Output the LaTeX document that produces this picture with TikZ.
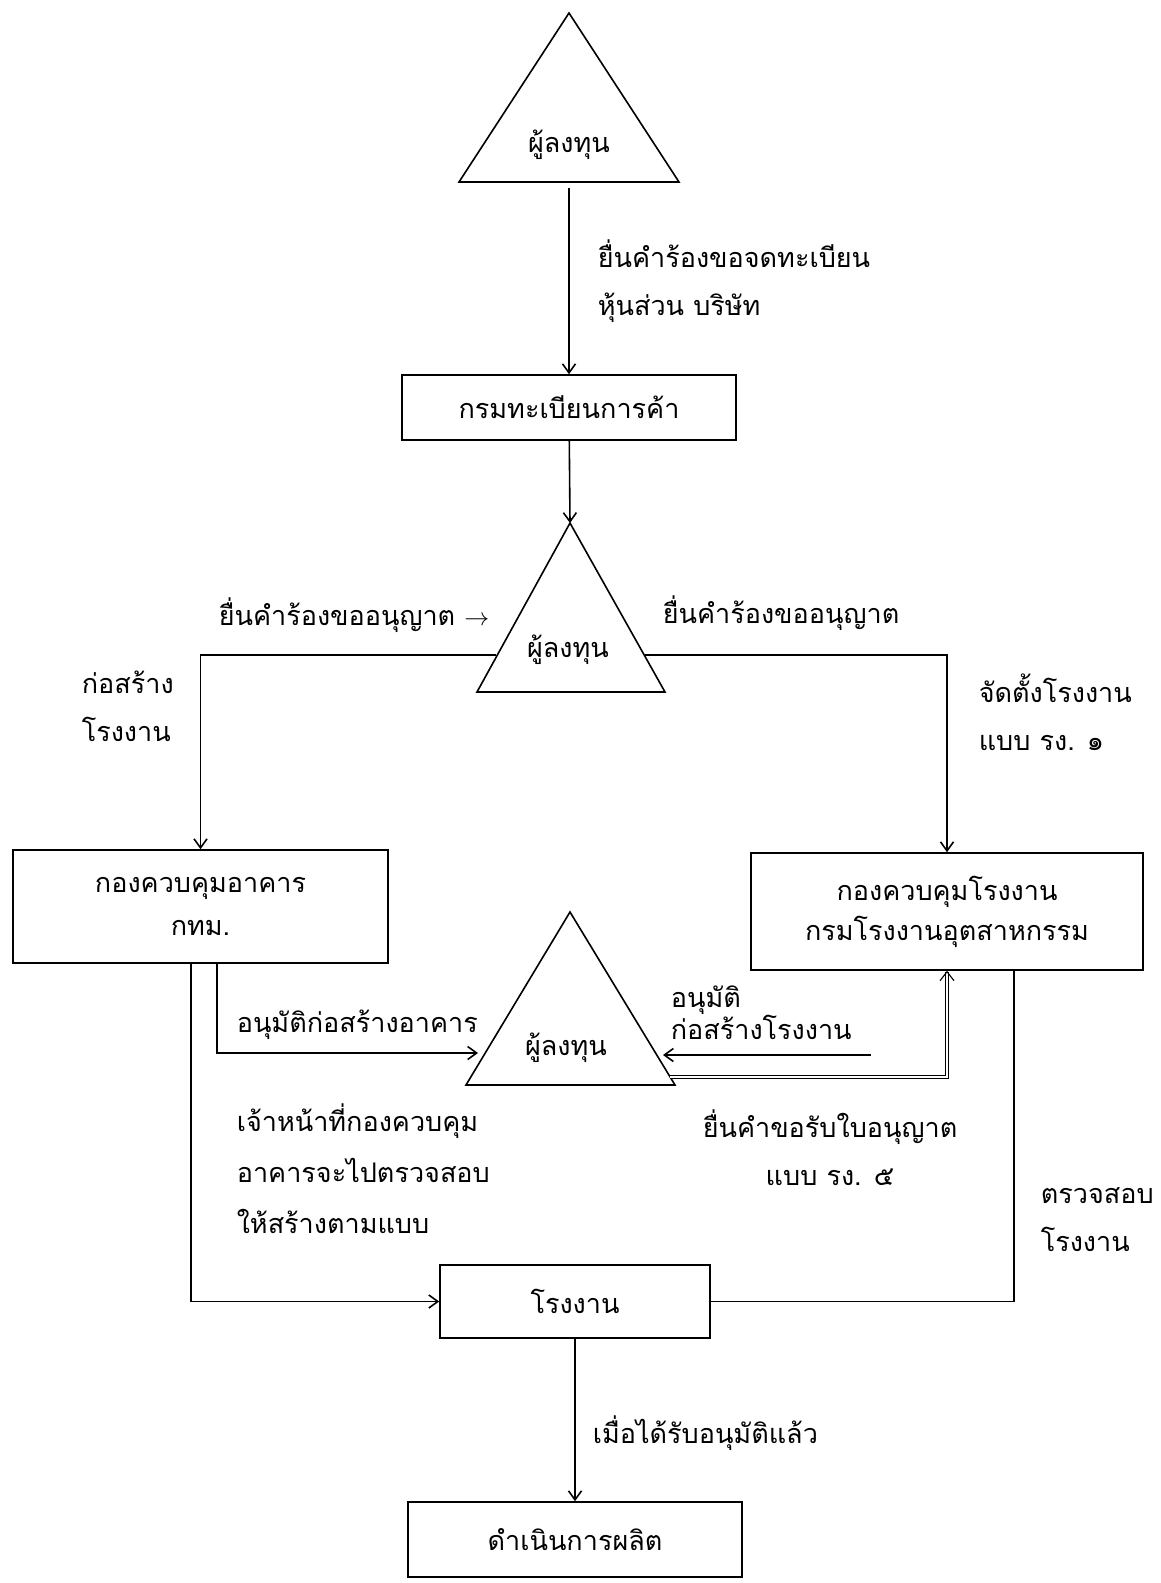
\documentclass[tikz,border=0pt]{standalone}
\usepackage{fontspec}
\newfontfamily\thaifont[Script=Thai]{Loma}
\usetikzlibrary{positioning,calc,arrows.meta}

\begin{document}
\begin{tikzpicture}[x=1pt,y=-1pt,line width=1.6pt,
  txt/.style={font=\thaifont\fontsize{27}{48}\selectfont,inner sep=0pt},
  lbl/.style={txt,align=left},
  box/.style={txt,draw,minimum width=#1},
  arr/.style={-{Straight Barb[length=9pt,width=13pt]}},
  dbl/.style={double,double distance=2.6pt,line width=1.1pt,-{Straight Barb[length=9pt,width=14pt]}}]
\useasboundingbox (0,0) rectangle (1160,1583);
\draw (569,13) -- (679,182) -- (459,182) -- cycle;
\draw (570,523) -- (665,692) -- (477,692) -- cycle;
\draw (570,912) -- (675,1085) -- (466,1085) -- cycle;
\node[txt] (inv1) at (569,145) {ผู้ลงทุน};
\node[txt] (inv2) at (568,650) {ผู้ลงทุน};
\node[txt] (inv3) at (566,1048) {ผู้ลงทุน};
\coordinate (t1b) at (569,188);
\coordinate (t2top) at (570,523);
\coordinate (t2w) at (496,655);
\coordinate (t2e) at (645,655);
\coordinate (t3w) at (478,1053);
\coordinate (t3e) at (663,1055);
\coordinate (t3src) at (871,1055);
\coordinate (t3se) at (670,1077);
\node[box=334pt,minimum height=65pt] (reg) at (569,407.5) {กรมทะเบียนการค้า};
\node[box=375pt,minimum height=113pt,align=center,font=\thaifont\fontsize{27}{43}\selectfont] (bldg) at (200.5,906.5) {กองควบคุมอาคาร\\กทม.};
\node[box=392pt,minimum height=117pt,align=center,font=\thaifont\fontsize{27}{40}\selectfont] (fact) at (947,911.5) {กองควบคุมโรงงาน\\กรมโรงงานอุตสาหกรรม};
\node[box=270pt,minimum height=73pt] (plant) at (575,1301.5) {โรงงาน};
\node[box=334pt,minimum height=75pt] (prod) at (575,1539.5) {ดำเนินการผลิต};
\draw[arr] (t1b) -- (reg);
\draw[arr] (reg) -- (t2top);
\draw[arr] (t2w) -| (bldg);
\draw[arr] (t2e) -| (fact);
\draw[arr] ([xshift=16.5pt]bldg.south) |- (t3w);
\draw[arr] ([xshift=-9.5pt]bldg.south) |- (plant);
\draw[arr] (t3src) -- (t3e);
\draw[dbl] (t3se) -| (fact);
\draw ([xshift=67pt]fact.south) |- (plant);
\draw[arr] (plant) -- (prod);
\node[lbl,anchor=west] at (597,281.5) {ยื่นคำร้องขอจดทะเบียน\\หุ้นส่วน บริษัท};
\node[lbl,anchor=east] at (490,615) {ยื่นคำร้องขออนุญาต $\rightarrow$};
\node[lbl,anchor=west] at (662,613) {ยื่นคำร้องขออนุญาต};
\node[lbl,anchor=west] at (81,706) {ก่อสร้าง\\โรงงาน};
\node[lbl,anchor=west] at (978,712.5) {จัดตั้งโรงงาน\\แบบ รง. ๑};
\node[lbl,anchor=west] at (236,1025) {อนุมัติก่อสร้างอาคาร};
\node[lbl,anchor=west,font=\thaifont\fontsize{27}{31}\selectfont] at (670,1012.5) {อนุมัติ\\ก่อสร้างโรงงาน};
\node[lbl,anchor=west,font=\thaifont\fontsize{27}{51}\selectfont] at (236,1168.5) {เจ้าหน้าที่กองควบคุม\\อาคารจะไปตรวจสอบ\\ให้สร้างตามแบบ};
\node[lbl,align=center] at (830,1147.5) {ยื่นคำขอรับใบอนุญาต\\แบบ รง. ๕};
\node[lbl,anchor=west] at (1040,1220) {ตรวจสอบ\\โรงงาน};
\node[lbl,anchor=west] at (592,1433) {เมื่อได้รับอนุมัติแล้ว};
\end{tikzpicture}
\end{document}
